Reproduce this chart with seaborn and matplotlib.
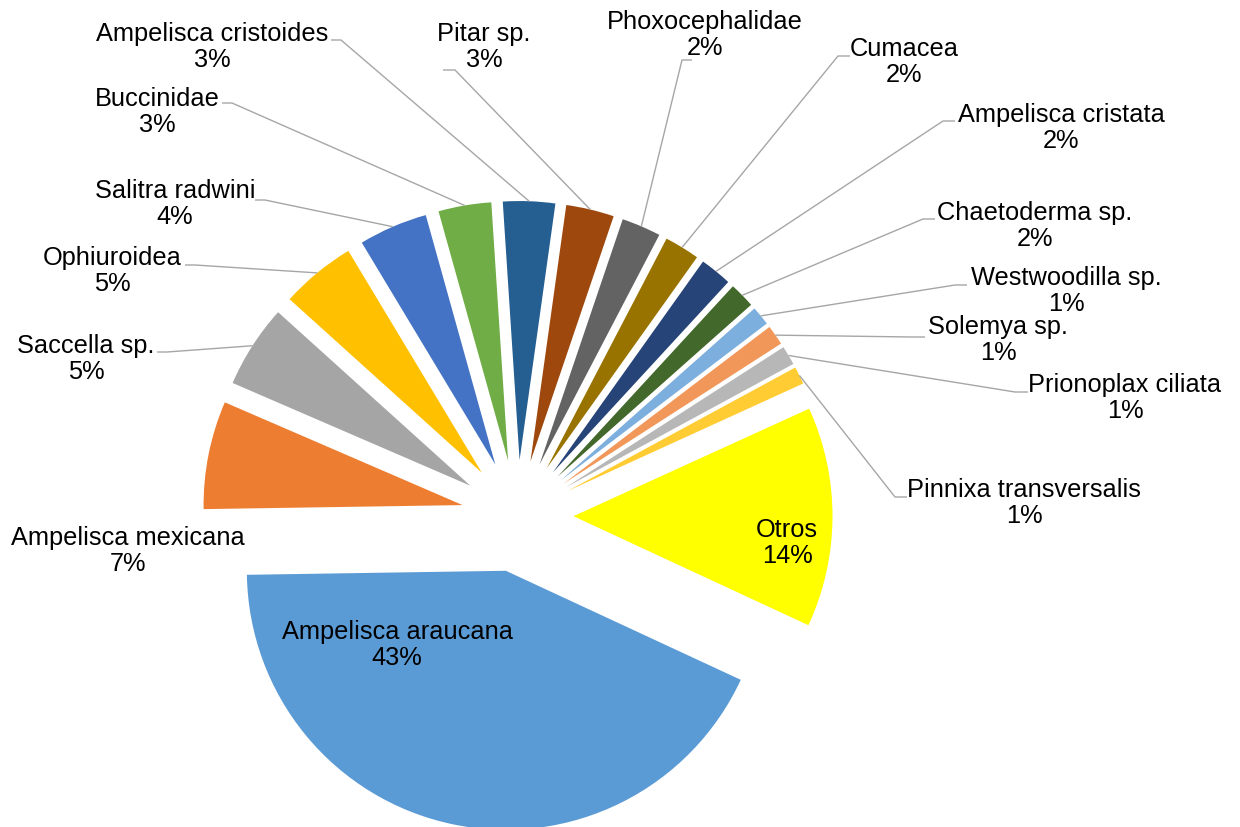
import numpy as np
import matplotlib
matplotlib.use("Agg")
import matplotlib.pyplot as plt
import seaborn as sns

# ---------------- data ----------------
species = ["Ampelisca araucana", "Ampelisca mexicana", "Saccella sp.", "Ophiuroidea",
           "Salitra radwini", "Buccinidae", "Ampelisca cristoides", "Pitar sp.",
           "Phoxocephalidae", "Cumacea", "Ampelisca cristata", "Chaetoderma sp.",
           "Westwoodilla sp.", "Solemya sp.", "Prionoplax ciliata",
           "Pinnixa transversalis", "Otros"]
values = [42.9, 6.75, 5.2, 4.7, 4.3, 3.3, 3.25, 3.0, 2.45, 2.2, 2.0, 1.6,
          1.2, 1.25, 1.2, 1.1, 13.75]
colors = ["#5B9BD5", "#ED7D31", "#A5A5A5", "#FFC000", "#4472C4", "#70AD47",
          "#255E91", "#9E480E", "#636363", "#997300", "#264478", "#43682B",
          "#7CAFDD", "#F1975A", "#B7B7B7", "#FFCD33", "#FFFF00"]

# ---------------- style ----------------
sns.set_theme(style="white")
plt.rcParams["font.family"] = ["Liberation Sans", "DejaVu Sans"]

W, H = 1240, 828
fig = plt.figure(figsize=(W / 100, H / 100), dpi=100)
ax = fig.add_axes([0, 0, 1, 1])

R = 259
EXP = 56
cx, cy = 517.5, H - 517

wedges, _ = ax.pie(values, colors=sns.color_palette(colors), startangle=-24.9,
                   counterclock=False, radius=R, center=(cx, cy),
                   explode=[EXP] * len(values),
                   wedgeprops=dict(linewidth=0))
ax.set_xlim(0, W)
ax.set_ylim(0, H)
ax.set_aspect("equal")
ax.axis("off")

total = sum(values)
pcts = [int(round(v / total * 100)) for v in values]

# label layout in pixel coords (x, y from top), leader tick (x_start, x_end, y)
layout = {
    "Ampelisca araucana": ((397, 645), None),
    "Ampelisca mexicana": ((128, 551), None),
    "Saccella sp.": ((86, 359), (157, 167, 353)),
    "Ophiuroidea": ((112, 271), (185, 195, 266)),
    "Salitra radwini": ((175, 204), (255, 265, 201)),
    "Buccinidae": ((157, 112), (222, 232, 104)),
    "Ampelisca cristoides": ((212, 47), (331, 341, 41)),
    "Pitar sp.": ((484, 47), (443, 455, 71)),
    "Phoxocephalidae": ((705, 35), (692, 682, 61)),
    "Cumacea": ((904, 62), (850, 838, 57)),
    "Ampelisca cristata": ((1061, 128), (955, 943, 122)),
    "Chaetoderma sp.": ((1035, 226), (935, 923, 220)),
    "Westwoodilla sp.": ((1066, 291), (967, 955, 286)),
    "Solemya sp.": ((998, 340), (925, 912, 338)),
    "Prionoplax ciliata": ((1125, 398), (1028, 1015, 393)),
    "Pinnixa transversalis": ((1024, 503), (907, 895, 498)),
    "Otros": ((787, 543), None),
}

line_color = "#A6A6A6"
for w, name, p in zip(wedges, species, pcts):
    (tx, ty), tick = layout[name]
    ax.text(tx, H - ty, f"{name}\n{p}%", ha="center", va="center",
            multialignment="center", fontsize=18.3, color="#000000",
            linespacing=1.12)
    if tick is not None:
        tm = np.deg2rad((w.theta1 + w.theta2) / 2)
        ex = w.center[0] + w.r * np.cos(tm)
        ey = w.center[1] + w.r * np.sin(tm)
        xs, xe, yy = tick
        ax.plot([xs, xe, ex], [H - yy, H - yy, ey], color=line_color, lw=1.0,
                solid_capstyle="butt")

fig.savefig("out.png", dpi=100)
